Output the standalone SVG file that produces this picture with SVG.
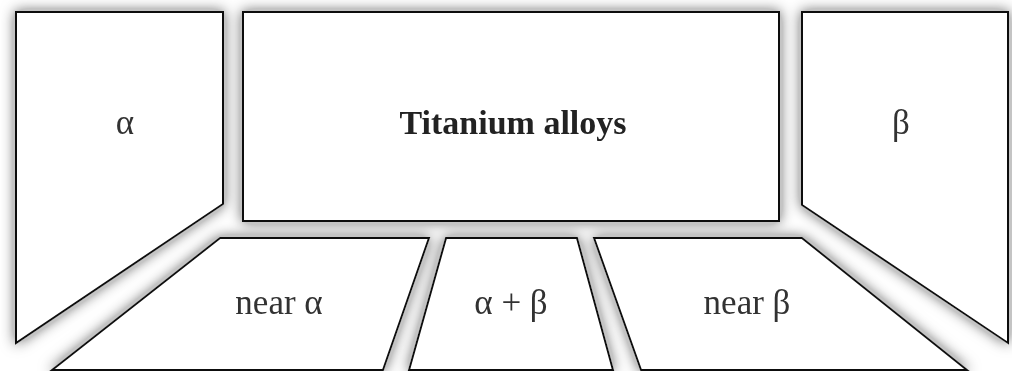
<svg xmlns="http://www.w3.org/2000/svg" width="1012" height="371" viewBox="0 0 1012 371">
<style>
.shape{fill:#fff;stroke:#111;stroke-width:2;stroke-linejoin:miter}
.lbl{font-family:"Liberation Serif","DejaVu Serif",serif;font-size:35px;fill:#333;text-anchor:middle}
.title{font-weight:bold;fill:#222;font-size:34px}
</style>
<defs>
<filter id="glow" x="-10%" y="-20%" width="120%" height="140%">
<feGaussianBlur in="SourceAlpha" stdDeviation="7" result="b"/>
<feComponentTransfer in="b" result="a"><feFuncA type="linear" slope="2.8"/></feComponentTransfer>
<feFlood flood-color="#c4c4c4"/>
<feComposite in2="a" operator="in" result="s"/>
<feMerge><feMergeNode in="s"/><feMergeNode in="SourceGraphic"/></feMerge>
</filter>
</defs>
<rect width="1012" height="371" fill="#fff"/>
<g filter="url(#glow)">
<g id="alpha">
<polygon class="shape" points="16,12 223,12 223,204 16,343"/>
<text class="lbl" x="125" y="134">α</text>
</g>
<g id="titanium">
<rect class="shape" x="243" y="12" width="536" height="209"/>
<text class="lbl title" x="513" y="134">Titanium alloys</text>
</g>
<g id="beta">
<polygon class="shape" points="802,12 1008,12 1008,343 802,205"/>
<text class="lbl" x="901" y="134">β</text>
</g>
<g id="near-alpha">
<polygon class="shape" points="220,238 429,238 383,370 52,370"/>
<text class="lbl" x="279" y="314">near α</text>
</g>
<g id="alpha-beta">
<polygon class="shape" points="446,238 577,238 613,370 409,370"/>
<text class="lbl" x="511" y="314">α + β</text>
</g>
<g id="near-beta">
<polygon class="shape" points="594,238 802,238 967,370 641,370"/>
<text class="lbl" x="747" y="314">near β</text>
</g>
</g>
<g id="connectors"></g>
</svg>
